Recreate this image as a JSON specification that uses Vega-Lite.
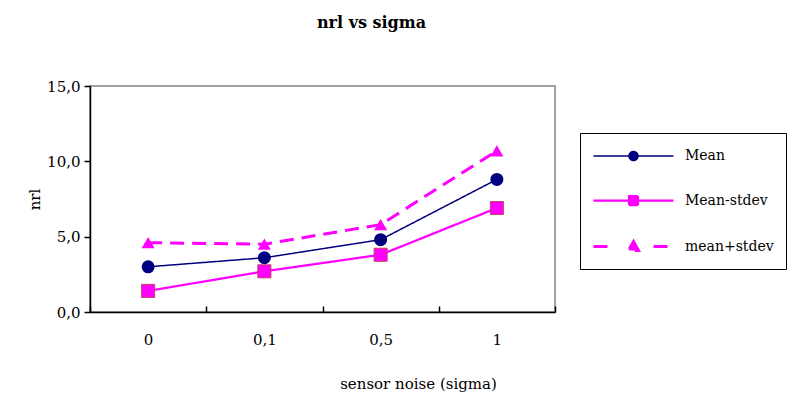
{
  "$schema": "https://vega.github.io/schema/vega-lite/v6.json",
  "width": 465,
  "height": 226,
  "autosize": {"type": "none"},
  "padding": {"left": 90, "top": 86, "right": 250, "bottom": 98},
  "background": "white",
  "config": {
    "font": "DejaVu Serif",
    "view": {"stroke": "#a0a0a0", "strokeWidth": 2},
    "axis": {"labelFont": "DejaVu Serif", "titleFont": "DejaVu Serif", "labelColor": "black", "titleColor": "black", "domainColor": "black", "tickColor": "black", "grid": false, "labelFontSize": 15, "titleFontSize": 15, "titleFontWeight": "normal", "domainWidth": 1.5, "tickWidth": 1.5},
    "legend": {"labelFont": "DejaVu Serif", "labelFontSize": 14, "labelColor": "black"}
  },
  "title": {"text": "nrl vs sigma", "fontSize": 16, "fontWeight": "bold", "color": "black", "font": "DejaVu Serif", "anchor": "middle", "dx": 49, "offset": 48},
  "data": {"values": [
    {"sigma": "0", "series": "Mean", "nrl": 3.0},
    {"sigma": "0,1", "series": "Mean", "nrl": 3.6},
    {"sigma": "0,5", "series": "Mean", "nrl": 4.8},
    {"sigma": "1", "series": "Mean", "nrl": 8.8},
    {"sigma": "0", "series": "Mean-stdev", "nrl": 1.4},
    {"sigma": "0,1", "series": "Mean-stdev", "nrl": 2.7},
    {"sigma": "0,5", "series": "Mean-stdev", "nrl": 3.8},
    {"sigma": "1", "series": "Mean-stdev", "nrl": 6.9},
    {"sigma": "0", "series": "mean+stdev", "nrl": 4.6},
    {"sigma": "0,1", "series": "mean+stdev", "nrl": 4.5},
    {"sigma": "0,5", "series": "mean+stdev", "nrl": 5.8},
    {"sigma": "1", "series": "mean+stdev", "nrl": 10.7}
  ]},
  "encoding": {
    "x": {"field": "sigma", "type": "ordinal", "sort": ["0", "0,1", "0,5", "1"], "bandPosition": 0.5,
      "scale": {"type": "band", "paddingInner": 0, "paddingOuter": 0},
      "axis": {"title": "sensor noise (sigma)", "labelAngle": 0, "tickBand": "extent", "tickSize": -6, "labelPadding": 26, "titlePadding": 29, "titleX": 328}},
    "y": {"field": "nrl", "type": "quantitative", "scale": {"domain": [0, 15]},
      "axis": {"title": "nrl", "values": [0, 5, 10, 15], "labelExpr": "replace(format(datum.value, '.1f'), '.', ',')", "tickSize": 6, "labelPadding": 4, "titlePadding": 4}}
  },
  "layer": [
    {
      "mark": {"type": "line"},
      "encoding": {
        "color": {"field": "series", "type": "nominal", "scale": {"domain": ["Mean", "Mean-stdev", "mean+stdev"], "range": ["#000080", "#ff00ff", "#ff00ff"]},
          "legend": {"title": null, "orient": "none", "legendX": 490, "legendY": 47, "strokeColor": "black", "padding": 12, "symbolSize": 400, "symbolStrokeWidth": 3, "labelOffset": 70, "rowPadding": 25,
            "encode": {"symbols": {"update": {
              "shape": {"signal": "datum.value === 'Mean' ? 'M-1,0H7M2.55,0A0.45,0.45,0,1,0,3.45,0A0.45,0.45,0,1,0,2.55,0Z' : datum.value === 'Mean-stdev' ? 'M-1,0H7M2.55,-0.45H3.45V0.45H2.55Z' : 'M-1,0H1M5,0H7M3,-0.5L3.5,0.4L2.5,0.4Z'"},
              "fill": {"signal": "datum.value === 'Mean' ? '#000080' : '#ff00ff'"},
              "stroke": {"signal": "datum.value === 'Mean' ? '#000080' : '#ff00ff'"},
              "strokeWidth": {"signal": "datum.value === 'Mean' ? 1.5 : 3"},
              "strokeDash": {"value": [1, 0]},
              "size": {"value": 400},
              "opacity": {"value": 1}
            }}}}},
        "strokeDash": {"field": "series", "type": "nominal", "scale": {"domain": ["Mean", "Mean-stdev", "mean+stdev"], "range": [[1, 0], [1, 0], [14, 8]]}, "legend": null},
        "strokeWidth": {"field": "series", "type": "ordinal", "scale": {"domain": ["Mean", "Mean-stdev", "mean+stdev"], "range": [1.5, 3, 3]}, "legend": null}
      }
    },
    {
      "transform": [{"filter": "datum.series == 'Mean'"}],
      "mark": {"type": "point", "filled": true, "size": 170, "opacity": 1, "shape": "circle", "color": "#000080"}
    },
    {
      "transform": [{"filter": "datum.series == 'Mean-stdev'"}],
      "mark": {"type": "point", "filled": true, "size": 170, "opacity": 1, "shape": "square", "fill": "#ff00ff", "stroke": "#c04060", "strokeWidth": 1}
    },
    {
      "transform": [{"filter": "datum.series == 'mean+stdev'"}],
      "mark": {"type": "point", "filled": true, "size": 170, "opacity": 1, "shape": "triangle-up", "color": "#ff00ff"}
    }
  ]
}
